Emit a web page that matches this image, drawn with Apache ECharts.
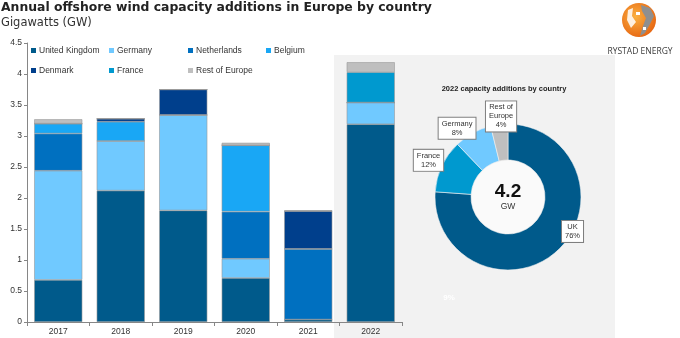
<!DOCTYPE html>
<html>
<head>
<meta charset="utf-8">
<script src="https://cdn.jsdelivr.net/npm/echarts@6/dist/echarts.min.js"></script>
<style>html,body{margin:0;padding:0;background:#fff}#c{width:680px;height:338px}</style>
</head>
<body>
<div id="c"></div>
<script>
var years = ['2017', '2018', '2019', '2020', '2021', '2022'];
var unitedKingdom = [0.68, 2.12, 1.80, 0.71, 0.04, 3.19];
var germany       = [1.76, 0.80, 1.54, 0.31, 0.00, 0.35];
var netherlands   = [0.60, 0.00, 0.00, 0.76, 1.14, 0.00];
var belgium       = [0.16, 0.31, 0.00, 1.07, 0.00, 0.00];
var denmark       = [0.00, 0.05, 0.41, 0.00, 0.61, 0.00];
var france        = [0.00, 0.00, 0.00, 0.00, 0.00, 0.49];
var restOfEurope  = [0.07, 0.00, 0.00, 0.04, 0.01, 0.16];
var yTicks = ['0', '0.5', '1', '1.5', '2', '2.5', '3', '3.5', '4', '4.5'];

var seriesDefs = [
  {name: 'United Kingdom', data: unitedKingdom, color: '#005A8B'},
  {name: 'Germany', data: germany, color: '#70C9FF'},
  {name: 'Netherlands', data: netherlands, color: '#0070C0'},
  {name: 'Belgium', data: belgium, color: '#19A7F5'},
  {name: 'Denmark', data: denmark, color: '#003F8C'},
  {name: 'France', data: france, color: '#0099CF'},
  {name: 'Rest of Europe', data: restOfEurope, color: '#BFBFBF'}
];
var colorOf = {};
seriesDefs.forEach(function (s) { colorOf[s.name] = s.color; });

// Pie for last year
var li = years.length - 1;
var pieNames = ['United Kingdom', 'France', 'Germany', 'Rest of Europe'];
var pieShort = {'United Kingdom': 'UK', 'France': 'France', 'Germany': 'Germany', 'Rest of Europe': 'Rest of\nEurope'};
var pieSrc = {'United Kingdom': unitedKingdom, 'France': france, 'Germany': germany, 'Rest of Europe': restOfEurope};
var pieData = pieNames.map(function (n) { return {name: n, value: pieSrc[n][li], itemStyle: {color: colorOf[n]}}; });
var total = pieData.reduce(function (a, d) { return a + d.value; }, 0);
var labelShift = [[25, -8], [-27, -12], [-23, -18], [0, -23]];

var chart = echarts.init(document.getElementById('c'), null, {renderer: 'canvas'});
var FONT = 'Liberation Sans, Arial, sans-serif';

var legendPos = [[31, 46], [109, 46], [188, 46], [266, 46], [31, 66], [109, 66], [188, 66]];
var legends = seriesDefs.map(function (s, i) {
  return {
    data: [s.name], left: legendPos[i][0], top: legendPos[i][1], padding: 0,
    itemWidth: 5, itemHeight: 5, icon: 'rect', selectedMode: false,
    itemStyle: {borderWidth: 0},
    textStyle: {fontSize: 8.5, color: '#333', fontFamily: FONT, padding: [0, 0, 0, -2]}
  };
});

var series = seriesDefs.map(function (s) {
  return {
    name: s.name, type: 'bar', stack: 'total', data: s.data,
    barCategoryGap: '23%',
    itemStyle: {color: s.color, borderColor: '#9a9a9a', borderWidth: 0.6},
    emphasis: {disabled: true}
  };
});
series.push({
  type: 'pie', center: [508, 197], radius: [37, 73], startAngle: 90, clockwise: true,
  data: pieData, silent: true,
  itemStyle: {borderColor: '#f2f2f2', borderWidth: 0.6},
  label: {
    show: true, position: 'inside',
    formatter: function (p) { return pieShort[p.name] + '\n' + Math.round(p.percent) + '%'; },
    fontSize: 7.5, lineHeight: 9, color: '#333', fontFamily: FONT, align: 'center',
    backgroundColor: '#fff', borderColor: '#7f7f7f', borderWidth: 1, padding: [2, 3, 1, 3]
  },
  labelLine: {show: false},
  labelLayout: function (p) { var s = labelShift[p.dataIndex]; return {dx: s[0], dy: s[1]}; }
});

var option = {
  animation: false,
  backgroundColor: '#fff',
  title: {
    text: 'Annual offshore wind capacity additions in Europe by country',
    subtext: 'Gigawatts (GW)', left: 1, top: 2, padding: 0, itemGap: 3,
    textStyle: {fontFamily: 'DejaVu Sans', fontWeight: 'bold', fontSize: 12.4, color: '#222'},
    subtextStyle: {fontFamily: 'DejaVu Sans', fontSize: 11.5, color: '#333'}
  },
  legend: legends,
  grid: {left: 27, right: 278, top: 43, bottom: 16, containLabel: false},
  xAxis: {
    type: 'category', data: years,
    axisLine: {lineStyle: {color: '#868686', width: 1}},
    axisTick: {show: true, length: 4, lineStyle: {color: '#868686'}},
    axisLabel: {fontSize: 8.5, color: '#333', fontFamily: FONT, margin: 5}
  },
  yAxis: {
    type: 'value', min: 0, max: 4.5, interval: 0.5,
    axisLine: {show: true, lineStyle: {color: '#868686', width: 1}},
    axisTick: {show: true, length: 3, lineStyle: {color: '#868686'}},
    splitLine: {show: false},
    axisLabel: {fontSize: 8.5, color: '#333', fontFamily: FONT, margin: 5,
      formatter: function (v) { var i = Math.round(v / 0.5); return yTicks[i]; }}
  },
  graphic: [
    {type: 'rect', z: -10, silent: true, shape: {x: 334, y: 55, width: 281, height: 283}, style: {fill: '#F2F2F2'}},
    {type: 'circle', z: 10, silent: true, shape: {cx: 508, cy: 197, r: 36.5}, style: {fill: '#FAFAFA'}},
    {type: 'text', z: 11, x: 508, y: 192, style: {text: total.toFixed(1), fontSize: 19, fontWeight: 'bold', fontFamily: FONT, fill: '#111', textAlign: 'center', textVerticalAlign: 'middle'}},
    {type: 'text', z: 11, x: 508, y: 207, style: {text: 'GW', fontSize: 8.5, fontFamily: FONT, fill: '#333', textAlign: 'center', textVerticalAlign: 'middle'}},
    {type: 'text', z: 11, x: 504, y: 89, style: {text: '2022 capacity additions by country', fontSize: 7.5, fontWeight: 'bold', fontFamily: FONT, fill: '#222', textAlign: 'center', textVerticalAlign: 'middle'}},
    {type: 'text', z: 11, x: 449, y: 298, style: {text: '9%', fontSize: 8, fontWeight: 'bold', fontFamily: FONT, fill: '#ffffff', textAlign: 'center', textVerticalAlign: 'middle'}},
    {type: 'circle', z: 11, shape: {cx: 639, cy: 20, r: 17},
      style: {fill: new echarts.graphic.RadialGradient(0.4, 0.4, 0.7, [{offset: 0, color: '#FBB040'}, {offset: 1, color: '#E5600E'}])}},
    {type: 'polygon', z: 12, shape: {points: [[641, 5], [650, 8], [654, 16], [650, 24], [645, 33], [640, 36], [643, 26], [646, 18], [642, 11]]}, style: {fill: '#8f8f8f'}},
    {type: 'polygon', z: 12, shape: {points: [[628, 10], [633, 8], [632, 16], [636, 22], [631, 28], [627, 20]]}, style: {fill: '#ffffff', opacity: 0.85}},
    {type: 'rect', z: 12, shape: {x: 636, y: 12, width: 4, height: 3}, style: {fill: '#ffffff'}},
    {type: 'rect', z: 12, shape: {x: 643, y: 27, width: 3, height: 3}, style: {fill: '#ffffff'}},
    {type: 'text', z: 11, x: 640, y: 51.5, style: {text: 'RYSTAD ENERGY', fontSize: 8.5, fontFamily: 'Open Sans, Arial, sans-serif', fill: '#3a3a3a', textAlign: 'center', textVerticalAlign: 'middle'}}
  ],
  series: series
};
chart.setOption(option);
</script>
</body>
</html>
